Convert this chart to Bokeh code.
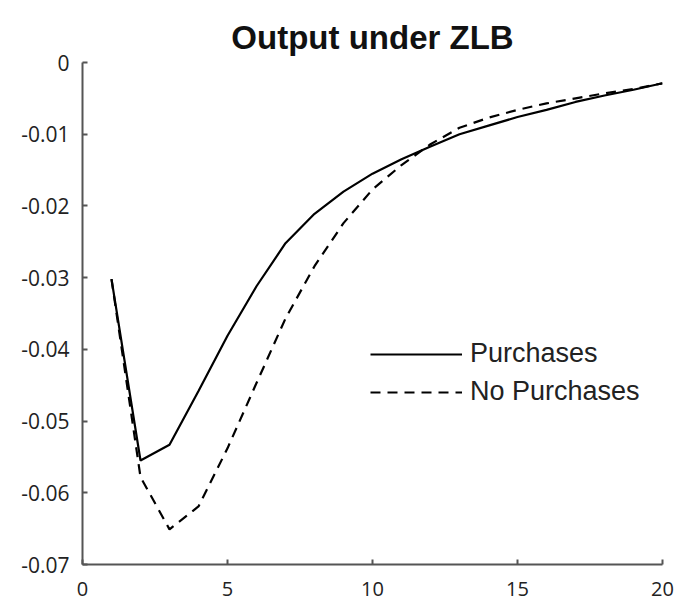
from bokeh.plotting import figure
from bokeh.models import Range1d, FixedTicker, Legend, LegendItem
from bokeh.embed import file_html
from bokeh.resources import INLINE

# Impulse response of output, quarters 1..20
quarters = list(range(1, 21))
purchases = [-0.0302, -0.0555, -0.0533, -0.0458, -0.0381, -0.0312, -0.0252, -0.0211,
             -0.0180, -0.0155, -0.0135, -0.0117, -0.0100, -0.0088, -0.0076, -0.0066,
             -0.0055, -0.0046, -0.0038, -0.0029]
no_purchases = [-0.0302, -0.0578, -0.0651, -0.0619, -0.0538, -0.0447, -0.0357, -0.0284,
                -0.0224, -0.0177, -0.0143, -0.0114, -0.0091, -0.0077, -0.0066, -0.0057,
                -0.0050, -0.0043, -0.0037, -0.0029]

x_ticks = [0, 5, 10, 15, 20]
y_ticks = [0, -0.01, -0.02, -0.03, -0.04, -0.05, -0.06, -0.07]
y_tick_labels = ["0", "-0.01", "-0.02", "-0.03", "-0.04", "-0.05", "-0.06", "-0.07"]

p = figure(width=677, height=607, output_backend="svg", toolbar_location=None,
           x_range=Range1d(0, 20), y_range=Range1d(-0.07, 0),
           min_border_left=82, min_border_right=15, min_border_top=62, min_border_bottom=43,
           title="Output under ZLB")

p.title.text_font = "Liberation Sans"
p.title.text_font_size = "33px"
p.title.text_font_style = "bold"
p.title.align = "center"
p.title.text_color = "#111111"
p.title.standoff = 14

p.outline_line_color = None
p.grid.grid_line_color = None
p.background_fill_color = "white"
p.border_fill_color = "white"

for ax in (p.xaxis[0], p.yaxis[0]):
    ax.axis_line_color = "#555555"
    ax.axis_line_width = 2
    ax.major_tick_line_color = "#555555"
    ax.major_tick_line_width = 2
    ax.major_tick_in = 5
    ax.major_tick_out = 0
    ax.minor_tick_line_color = None
    ax.major_label_text_font = "Open Sans"
    ax.major_label_text_font_size = "21px"
    ax.major_label_text_color = "#222222"

p.xaxis.ticker = FixedTicker(ticks=x_ticks)
p.xaxis.major_label_text_font_size = "20px"
p.xaxis.major_label_standoff = 17
p.yaxis.ticker = FixedTicker(ticks=y_ticks)
p.yaxis.major_label_overrides = {v: s for v, s in zip(y_ticks, y_tick_labels)}
p.yaxis.major_label_standoff = 13

r1 = p.line(quarters, purchases, line_color="black", line_width=2.2)
r2 = p.line(quarters, no_purchases, line_color="black", line_width=2.2, line_dash="10 7")

legend = Legend(items=[LegendItem(label="Purchases", renderers=[r1]),
                       LegendItem(label="No Purchases", renderers=[r2])],
                location=(288, 157), glyph_width=92, glyph_height=30, label_height=30,
                spacing=7, padding=0, margin=0, label_standoff=8,
                label_text_font="Liberation Sans", label_text_font_size="27px",
                label_text_color="#222222",
                border_line_color=None, background_fill_alpha=0)
p.add_layout(legend)

open("out.html", "w").write(file_html(p, INLINE))
